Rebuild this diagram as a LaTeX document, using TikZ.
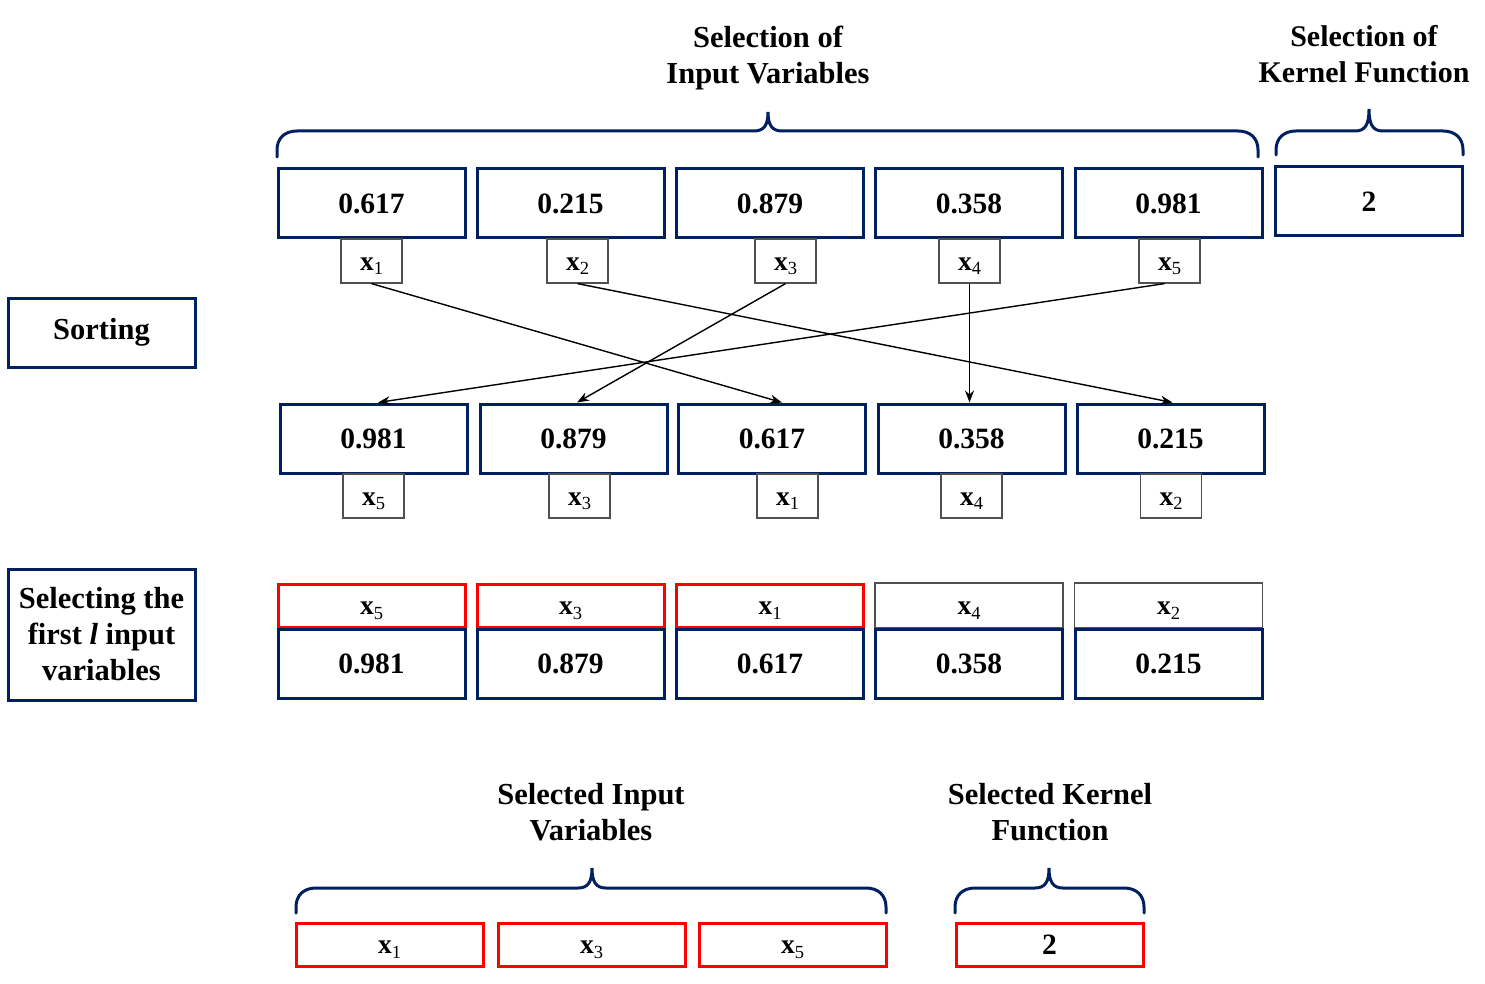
\documentclass[tikz,border=0pt]{standalone}
\usepackage{fontspec}
\setmainfont{Liberation Serif}
\usetikzlibrary{arrows.meta,calc}
\definecolor{navy}{RGB}{0,32,96}
\definecolor{tagline}{RGB}{80,80,80}
\newcommand\xs[1]{\textbf{x}\raisebox{-4.5pt}{\fontsize{18.5}{18.5}\selectfont\mdseries #1}}
\newcommand\mybrace[6]{% L R M yh ytip ybot
  \draw[bracestyle] (#1,#6) -- (#1,#4+19) .. controls (#1,#4+7) and (#1+8,#4) .. (#1+20,#4)
    -- (#3-14,#4) .. controls (#3-4,#4) and (#3,#4-6) .. (#3,#5)
    .. controls (#3,#4-6) and (#3+4,#4) .. (#3+14,#4)
    -- (#2-20,#4) .. controls (#2-8,#4) and (#2,#4+7) .. (#2,#4+19) -- (#2,#6);}
\begin{document}
\begin{tikzpicture}[x=1pt,y=-1pt,
  valbox/.style={draw=navy,line width=3pt,minimum width=187pt,minimum height=69pt,inner sep=0pt,font=\fontsize{29.5}{29.5}\selectfont\bfseries},
  tagtext/.style={text height=20pt,text depth=2pt,font=\fontsize{27.5}{27.5}\selectfont},
  tagbox/.style={draw=tagline,line width=1.2pt,minimum width=61pt,minimum height=44pt,inner sep=0pt,tagtext},
  redtag/.style={draw=red,line width=3pt,minimum width=187pt,minimum height=43pt,inner sep=0pt,tagtext},
  redval/.style={draw=red,line width=3pt,minimum width=187pt,minimum height=43pt,inner sep=0pt,font=\fontsize{29.5}{29.5}\selectfont\bfseries},
  graytag/.style={draw=tagline,line width=1.2pt,minimum width=188pt,minimum height=45pt,inner sep=0pt,tagtext},
  title/.style={align=center,font=\fontsize{30.5}{36}\selectfont\bfseries},
  bracestyle/.style={draw=navy,line width=3pt,line cap=round},
  arr/.style={line width=1.4pt,-{Stealth[length=12pt,width=9pt]}}]
\useasboundingbox (0,0) rectangle (1485,984);

% titles
\node[title] (t1) at (768,58) {Selection of\\Input Variables};
\node[title,font=\fontsize{30}{36}\selectfont\bfseries] (t2) at (1364,54) {Selection of\\Kernel Function};
\node[title] (t3) at (591,812) {Selected Input\\Variables};
\node[title] (t4) at (1050,812) {Selected Kernel\\Function};

% braces
\mybrace{277}{1258}{768}{131}{112}{157}
\mybrace{1276}{1463}{1369}{131}{109}{155}
\mybrace{296}{886}{592}{888}{868}{913}
\mybrace{955}{1144}{1049}{888}{868}{913}

% row 1
\node[valbox] (a1) at (371.5,203.5) {0.617};
\node[valbox] (a2) at (570.5,203.5) {0.215};
\node[valbox] (a3) at (770,203.5) {0.879};
\node[valbox] (a4) at (969,203.5) {0.358};
\node[valbox] (a5) at (1168.5,203.5) {0.981};
\node[valbox] (k1) at (1369,201.5) {2};
\node[tagbox] (ta1) at (371.5,261) {\xs{1}};
\node[tagbox] (ta2) at (577.5,261) {\xs{2}};
\node[tagbox] (ta3) at (785.5,261) {\xs{3}};
\node[tagbox] (ta4) at (969.5,261) {\xs{4}};
\node[tagbox] (ta5) at (1169.5,261) {\xs{5}};

% left labels
\node[valbox,font=\fontsize{30.5}{30.5}\selectfont\bfseries] (sort) at (101.5,332.5) {Sorting};
\node[valbox,minimum height=131pt,align=center,font=\fontsize{30.5}{36}\selectfont\bfseries] (sel) at (101.5,634.5) {Selecting the\\first \textit{l} input\\variables};

% row 2
\node[valbox] (b1) at (373.5,438.5) {0.981};
\node[valbox] (b2) at (573.5,438.5) {0.879};
\node[valbox] (b3) at (772,438.5) {0.617};
\node[valbox] (b4) at (971.5,438.5) {0.358};
\node[valbox] (b5) at (1170.5,438.5) {0.215};
\node[tagbox] (tb1) at (373.5,496) {\xs{5}};
\node[tagbox] (tb2) at (579.5,496) {\xs{3}};
\node[tagbox] (tb3) at (787.5,496) {\xs{1}};
\node[tagbox] (tb4) at (971.5,496) {\xs{4}};
\node[tagbox] (tb5) at (1171,496) {\xs{2}};

% arrows
\draw[arr] (ta1.south) -- ($(b3.north)+(10,0)$);
\draw[arr] (ta2.south) -- ($(b5.north)+(2,0)$);
\draw[arr] (ta3.south) -- ($(b2.north)+(3.5,0)$);
\draw[arr] (ta4.south) -- (ta4.south |- b4.north);
\draw[arr] ($(ta5.south)+(-5,0)$) -- ($(b1.north)+(4.5,0)$);

% row 3
\node[redtag] (c1) at (371.5,605.5) {\xs{5}};
\node[redtag] (c2) at (570.5,605.5) {\xs{3}};
\node[redtag] (c3) at (770,605.5) {\xs{1}};
\node[graytag] (c4) at (969,605.5) {\xs{4}};
\node[graytag] (c5) at (1168.5,605.5) {\xs{2}};
\node[valbox] (d1) at (371.5,664) {0.981};
\node[valbox] (d2) at (570.5,664) {0.879};
\node[valbox] (d3) at (770,664) {0.617};
\node[valbox] (d4) at (969,664) {0.358};
\node[valbox] (d5) at (1168.5,664) {0.215};

% bottom
\node[redtag] (e1) at (389.5,944.5) {\xs{1}};
\node[redtag] (e2) at (591.5,944.5) {\xs{3}};
\node[redtag] (e3) at (792.5,944.5) {\xs{5}};
\node[redval] (k2) at (1049.5,944.5) {2};
\end{tikzpicture}
\end{document}
